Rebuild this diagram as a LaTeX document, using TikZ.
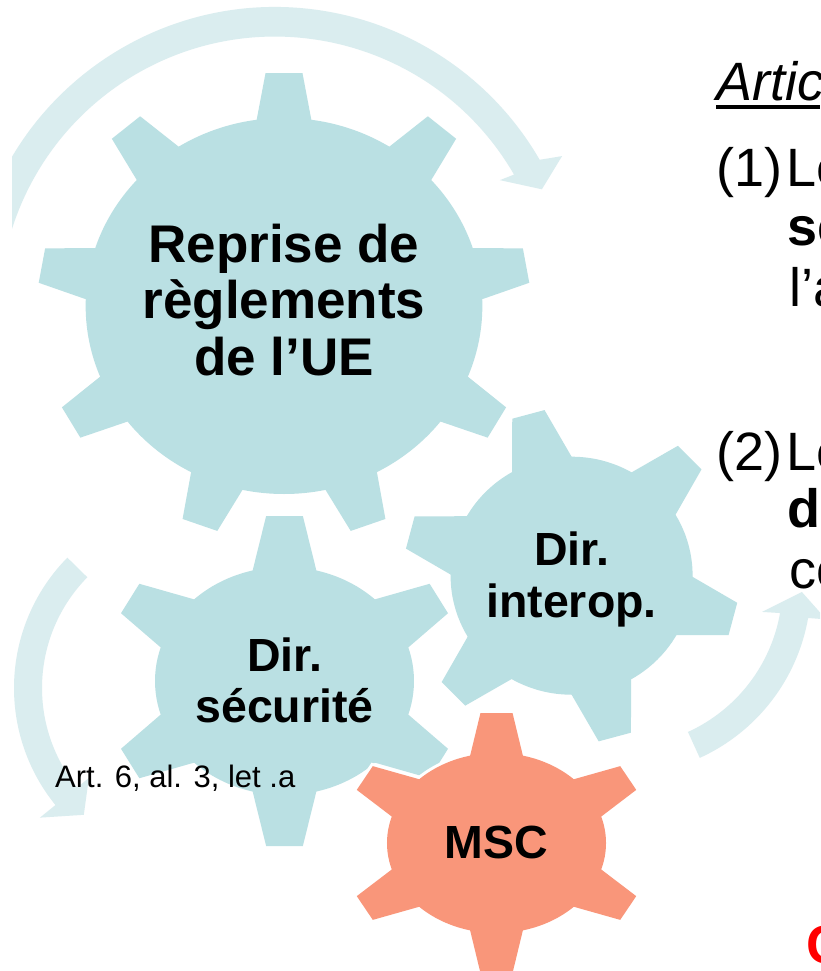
\documentclass[tikz,border=0pt]{standalone}
\usepackage{fontspec}
\setmainfont{Liberation Sans}
\definecolor{gearblue}{HTML}{BAE0E3}
\definecolor{arrowblue}{HTML}{DAEDEF}
\definecolor{mscred}{HTML}{F9967A}
\definecolor{alertred}{HTML}{FF0000}
% #1 body x radius (unscaled), #2 body y radius, #3 tip radius, #4 tip half-width, #5 base half-width, #6 inner radius
\newcommand\gearset[6]{%
  \pgfmathsetmacro\gearSlope{(#5-#4)/(#3-#2)}%
  \pgfmathsetmacro\gearW{#5+\gearSlope*(#2-#6)}%
  \pgfmathsetmacro\gearA{atan(\gearW/#6)}%
  \pgfmathsetmacro\gearR{100*sqrt((#6/100)^2+(\gearW/100)^2)}%
  \pgfmathsetmacro\gearB{atan(#4/#3)}%
  \pgfmathsetmacro\gearC{100*sqrt((#3/100)^2+(#4/100)^2)}%
  \def\gearBX{#1}\def\gearBY{#2}%
}
% #1 style, #2 number of teeth, #3 start angle
\newcommand\gearfill[3]{%
  \fill[#1] (0,0) ellipse[x radius=\gearBX, y radius=\gearBY];
  \foreach \k in {1,...,#2}{%
    \pgfmathsetmacro\gearT{#3+360*(\k-1)/#2}%
    \fill[#1] ({\gearT+\gearA}:\gearR) -- ({\gearT+\gearB}:\gearC) -- ({\gearT-\gearB}:\gearC) -- ({\gearT-\gearA}:\gearR) -- cycle;
  }%
}
\begin{document}
\begin{tikzpicture}[x=1pt,y=-1pt,
  biglabel/.style={anchor=base, inner sep=0pt, font=\bfseries\fontsize{53}{53}\selectfont},
  gearlabel/.style={anchor=base, inner sep=0pt, font=\bfseries\fontsize{46.5}{46.5}\selectfont},
  notelabel/.style={anchor=base west, inner sep=0pt, font=\fontsize{31}{31}\selectfont},
  sidetext/.style={anchor=base west, inner sep=0pt, font=\fontsize{54}{54}\selectfont},
  outline/.style={fill=white, draw=white, line width=6pt}]
\useasboundingbox (0,0) rectangle (820,971);
\fill[white] (0,0) rectangle (820,971);
\clip (0,0) rectangle (820,971);

% circular arrows
\begin{scope}
  \clip (12,0) rectangle (820,971);
  \begin{scope}[shift={(275,312.6)}]
    \fill[arrowblue] (-168:305.6) arc[start angle=-168, end angle=-30, radius=305.6]
      -- (-28.6:327) -- (-24.8:294) -- (-30.5:261) -- (-30:276)
      arc[start angle=-30, end angle=-168, radius=276] -- cycle;
  \end{scope}
\end{scope}
\begin{scope}[shift={(200,688)}]
  \fill[arrowblue] (224.5:186) arc[start angle=224.5, end angle=141, radius=186]
    -- (141:206) -- (132.5:172) -- (141:143) -- (141:158)
    arc[start angle=141, end angle=224.5, radius=158] -- cycle;
\end{scope}
\begin{scope}[shift={(621,585)}]
  \fill[arrowblue] (65.5:190) arc[start angle=65.5, end angle=10, radius=190]
    -- (9.5:208) -- (2.2:181) -- (10.8:143.6) -- (10:161.5)
    arc[start angle=10, end angle=65.5, radius=161.5] -- cycle;
\end{scope}

% gears
\begin{scope}[shift={(284,306)}, xscale=1.055]
  \gearset{188}{188}{233}{17.5}{25.6}{120}
  \gearfill{outline}{9}{-90}
  \gearfill{fill=gearblue}{9}{-90}
\end{scope}
\begin{scope}[shift={(284.5,681)}, xscale=1.08]
  \gearset{119.9}{114}{165}{17}{28.7}{70}
  \gearfill{outline}{6}{-90}
  \gearfill{fill=gearblue}{6}{-90}
\end{scope}
\begin{scope}[shift={(571.6,575.7)}]
  \gearset{121}{119}{167}{16.7}{29.7}{70}
  \gearfill{outline}{6}{-105}
  \gearfill{fill=gearblue}{6}{-105}
\end{scope}
\begin{scope}[shift={(496.5,843)}, xscale=1.17]
  \gearset{93.6}{90}{130}{13.7}{22}{55}
  \gearfill{outline}{6}{-90}
  \gearfill{fill=mscred}{6}{-90}
\end{scope}

% gear labels
\node[biglabel] (ue1) at (284,262) {Reprise de};
\node[biglabel] (ue2) at (284,318) {règlements};
\node[biglabel] (ue3) at (284,375) {de l’UE};
\node[gearlabel] (sec1) at (284.5,671) {Dir.};
\node[gearlabel] (sec2) at (284.5,722) {sécurité};
\node[gearlabel] (int1) at (571.5,565) {Dir.};
\node[gearlabel] (int2) at (571.5,617) {interop.};
\node[gearlabel] (msc) at (496,858) {MSC};
\node[notelabel] (art) at (55,787) {Art. 6, al. 3, let .a};

% text on the right (cut by the frame)
\node[sidetext] (title) at (716,101) {\itshape Article};
\draw[line width=3.5pt] (716,107) -- (820,107);
\node[sidetext] (p1) at (716,186) {(1)};
\node[sidetext] (p1a) at (786,186) {Le};
\node[sidetext] (p1b) at (787,245) {\bfseries se};
\node[sidetext] (p1c) at (789,306) {l’a};
\node[sidetext] (p2) at (716,470) {(2)};
\node[sidetext] (p2a) at (786,470) {Le};
\node[sidetext] (p2b) at (787,527) {\bfseries de};
\node[sidetext] (p2c) at (789,588) {co};
\node[sidetext, text=alertred] (red) at (806,963) {\bfseries C};
\end{tikzpicture}
\end{document}
